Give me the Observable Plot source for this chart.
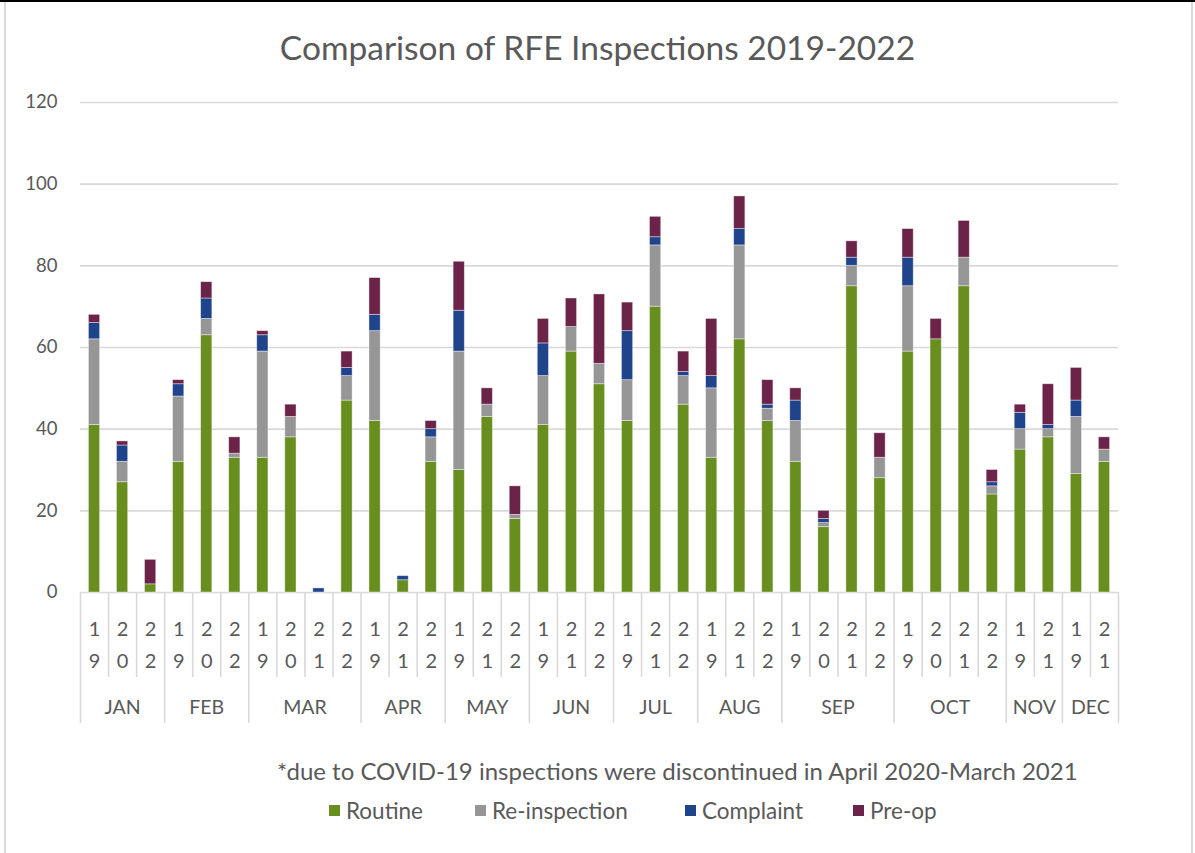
<!DOCTYPE html>
<html>
<head>
<meta charset="utf-8">
<script src="https://cdn.jsdelivr.net/npm/d3@7"></script>
<script src="https://cdn.jsdelivr.net/npm/@observablehq/plot@0.6"></script>
<style>
  body { margin: 0; background: #fff; font-family: Lato, "Open Sans", sans-serif; }
  #frame { position: relative; width: 1195px; height: 853px; overflow: hidden; background: #fff; }
  .topline { position: absolute; left: 0; top: 0; width: 1195px; height: 2px; background: #000; }
  .lline { position: absolute; left: 4px; top: 2px; width: 2px; height: 851px; background: #d9d9d9; }
  .rline { position: absolute; left: 1191px; top: 2px; width: 2px; height: 851px; background: #d9d9d9; }
  #title { position: absolute; left: 0; top: 26px; width: 1195px; text-align: center; font-size: 33.5px; line-height: 42px; color: #595959; }
  #chart { position: absolute; left: 0; top: 85px; }
  #caption { position: absolute; left: 277px; top: 756px; font-size: 24px; line-height: 30px; color: #595959; white-space: nowrap; }
  .leg { position: absolute; top: 797px; height: 26px; display: flex; align-items: center; font-size: 22.5px; color: #595959; white-space: nowrap; }
  .leg i { display: inline-block; width: 11px; height: 11px; margin-right: 6px; }
</style>
</head>
<body>
<div id="frame">
  <div class="topline"></div><div class="lline"></div><div class="rline"></div>
  <div id="title">Comparison of RFE Inspections 2019-2022</div>
  <div id="chart"></div>
  <div id="caption">*due to COVID-19 inspections were discontinued in April 2020-March 2021</div>
  <div id="legend"></div>
</div>
<script>
// ---- data ----
const months = ["JAN","FEB","MAR","APR","MAY","JUN","JUL","AUG","SEP","OCT","NOV","DEC"];
const barMonths = ["JAN","JAN","JAN","FEB","FEB","FEB","MAR","MAR","MAR","MAR","APR","APR","APR","MAY","MAY","MAY","JUN","JUN","JUN","JUL","JUL","JUL","AUG","AUG","AUG","SEP","SEP","SEP","SEP","OCT","OCT","OCT","OCT","NOV","NOV","DEC","DEC"];
const barYears  = ["19","20","22","19","20","22","19","20","21","22","19","21","22","19","21","22","19","21","22","19","21","22","19","21","22","19","20","21","22","19","20","21","22","19","21","19","21"];
const routine      = [41,27,2,32,63,33,33,38,0,47,42,3,32,30,43,18,41,59,51,42,70,46,33,62,42,32,16,75,28,59,62,75,24,35,38,29,32];
const reinspection = [21,5,0,16,4,1,26,5,0,6,22,0,6,29,3,1,12,6,5,10,15,7,17,23,3,10,1,5,5,16,0,7,2,5,2,14,3];
const complaint    = [4,4,0,3,5,0,4,0,1,2,4,1,2,10,0,0,8,0,0,12,2,1,3,4,1,5,1,2,0,7,0,0,1,4,1,4,0];
const preop        = [2,1,6,1,4,4,1,3,0,4,9,0,2,12,4,7,6,7,17,7,5,5,14,8,6,3,2,4,6,7,5,9,3,2,10,8,3];
const seriesNames  = ["Routine","Re-inspection","Complaint","Pre-op"];
const seriesColors = ["#678e1f","#969696","#1f448c","#6b2348"];
const yTicks = [0,20,40,60,80,100,120];

// ---- build tables ----
const seriesValues = [routine, reinspection, complaint, preop];
const bars = barMonths.map((m, i) => ({i, month: m, year: barYears[i]}));
const segs = [];
bars.forEach((b, i) => {
  let acc = 0;
  seriesValues.forEach((vals, s) => {
    const v = vals[i];
    if (v > 0) segs.push({i, type: seriesNames[s], y1: acc, y2: acc + v});
    acc += v;
  });
});
const monthInfo = months.map(m => {
  const idx = bars.filter(b => b.month === m).map(b => b.i);
  return {month: m, first: d3.min(idx), last: d3.max(idx)};
});
const monthSeps = monthInfo.map(d => d.first - 0.5).concat([bars.length - 0.5]);
const yearSeps = bars.filter((b, i) => i > 0 && bars[i - 1].month === b.month).map(b => b.i - 0.5);

const gridColor = "#d9d9d9";
const chart = Plot.plot({
  width: 1195,
  height: 655,
  marginTop: 17,
  marginBottom: 148,
  marginLeft: 80,
  marginRight: 77,
  style: {fontFamily: "Lato, 'Open Sans', sans-serif", color: "#595959", background: "transparent", overflow: "visible"},
  x: {type: "linear", domain: [-0.5, bars.length - 0.5], axis: null},
  y: {domain: [0, 120], axis: null},
  color: {domain: seriesNames, range: seriesColors},
  marks: [
    Plot.gridY(yTicks, {stroke: gridColor, strokeOpacity: 1, strokeWidth: 1.6}),
    Plot.axisY(yTicks, {tickSize: 0, tickPadding: 23, fontSize: 18.5, label: null}),
    Plot.ruleX(yearSeps, {x: d => d, y1: 0, y2: 0, insetBottom: -85, stroke: gridColor, strokeWidth: 1.6}),
    Plot.ruleX(monthSeps, {x: d => d, y1: 0, y2: 0, insetBottom: -131, stroke: gridColor, strokeWidth: 1.6}),
    Plot.rect(segs, {x1: d => d.i - 0.2, x2: d => d.i + 0.2, y1: "y1", y2: "y2", fill: "type", stroke: "white", strokeOpacity: 0.5, strokeWidth: 0.8}),
    Plot.text(bars, {x: "i", y: 0, text: d => d.year[0], dy: 37, fontSize: 20, fill: "#595959"}),
    Plot.text(bars, {x: "i", y: 0, text: d => d.year[1], dy: 69, fontSize: 20, fill: "#595959"}),
    Plot.text(monthInfo, {x: d => (d.first + d.last) / 2, y: 0, text: "month", dy: 115, fontSize: 19.5, fill: "#595959"})
  ]
});
document.getElementById("chart").appendChild(chart);

// ---- legend ----
const legendLeft = [329, 475, 685, 853];
const legend = document.getElementById("legend");
seriesNames.forEach((name, k) => {
  const item = document.createElement("div");
  item.className = "leg";
  item.style.left = legendLeft[k] + "px";
  item.innerHTML = `<i style="background:${seriesColors[k]}"></i><span>${name}</span>`;
  legend.appendChild(item);
});
</script>
</body>
</html>
